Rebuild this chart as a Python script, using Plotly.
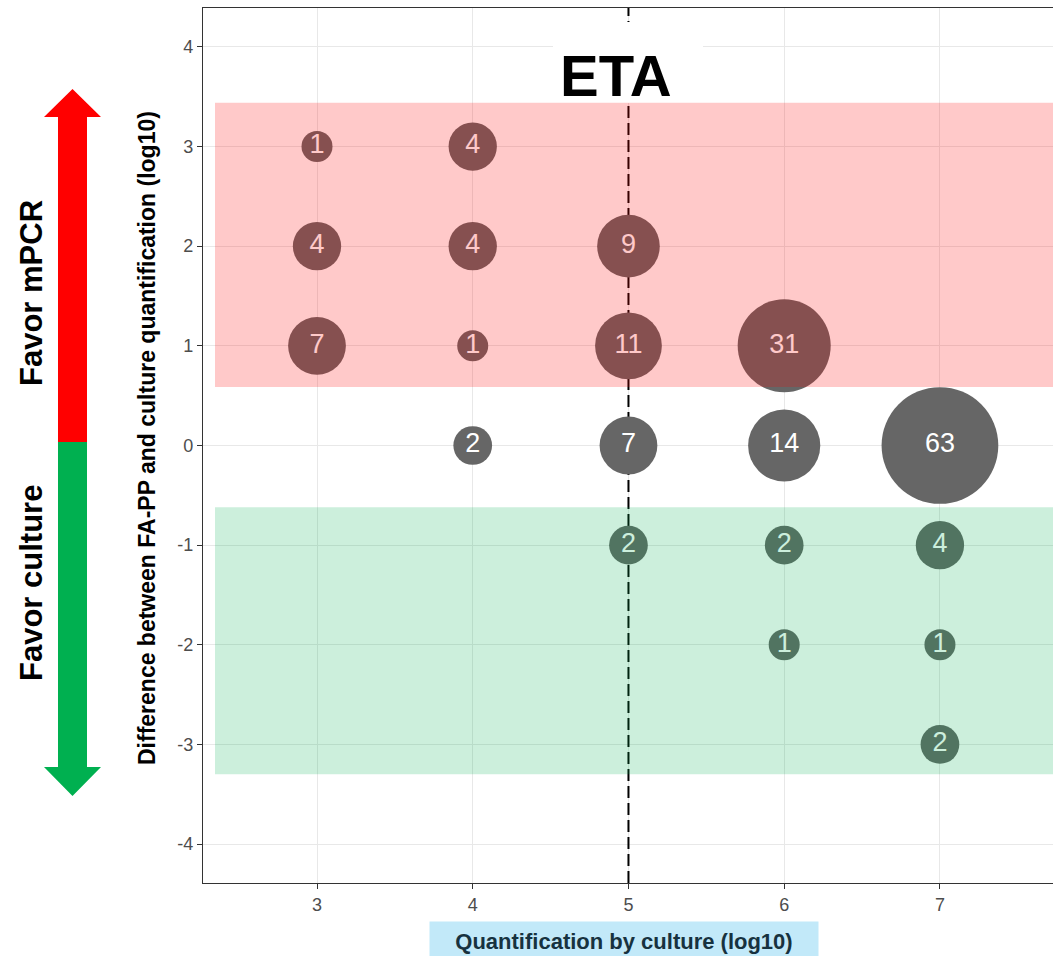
import plotly.graph_objects as go

# Culture quantification (log10), difference FA-PP minus culture (log10), and isolate counts
culture_log = [3, 3, 3, 4, 4, 4, 4, 5, 5, 5, 5, 6, 6, 6, 6, 7, 7, 7, 7]
difference_log = [3, 2, 1, 3, 2, 1, 0, 2, 1, 0, -1, 1, 0, -1, -2, 0, -1, -2, -3]
counts = [1, 4, 7, 4, 4, 1, 2, 9, 11, 7, 2, 31, 14, 2, 1, 63, 4, 1, 2]

x_ticks = [3, 4, 5, 6, 7]
y_ticks = [-4, -3, -2, -1, 0, 1, 2, 3, 4]
y_tick_labels = ["-4", "-3", "-2", "-1", "0", "1", "2", "3", "4"]
threshold_x = 5

X_RANGE = [2.268, 7.726]
Y_RANGE = [-4.39, 4.39]

W, H = 1053, 956
ML, MR, MT, MB = 203, 0, 8, 73
PW, PH = W - ML - MR, H - MT - MB

FONT = "Liberation Sans, Arial, sans-serif"


def px(x):
    return (x - ML) / PW


def py(y):
    return (H - MB - y) / PH


def bubble_diameter(n):
    return 31 * n ** 0.32


fig = go.Figure()

# vertical dashed reference line at the culture threshold
fig.add_trace(go.Scatter(
    x=[threshold_x, threshold_x], y=Y_RANGE, mode="lines",
    line=dict(color="black", width=2, dash="12px,5px"),
    hoverinfo="skip", showlegend=False,
))

fig.add_trace(go.Scatter(
    x=culture_log, y=difference_log, mode="markers+text",
    marker=dict(size=[bubble_diameter(n) for n in counts], sizemode="diameter",
                color="#666666", line=dict(width=0), opacity=1),
    text=[str(n) for n in counts], textposition="middle center",
    textfont=dict(family=FONT, size=27, color="white"),
    showlegend=False, hoverinfo="skip",
))

shapes = []
# white plate behind the title
shapes.append(dict(type="rect", xref="paper", yref="paper",
                   x0=px(553), x1=px(703), y0=py(103), y1=py(22),
                   fillcolor="white", line=dict(width=0), layer="above"))
# agreement zones
shapes.append(dict(type="rect", xref="x", yref="y",
                   x0=2.345, x1=X_RANGE[1], y0=0.586, y1=3.44,
                   fillcolor="rgba(255,0,0,0.21)", line=dict(width=0), layer="above"))
shapes.append(dict(type="rect", xref="x", yref="y",
                   x0=2.345, x1=X_RANGE[1], y0=-3.30, y1=-0.62,
                   fillcolor="rgba(0,176,80,0.2)", line=dict(width=0), layer="above"))


def path_from(points):
    return "M " + " L ".join(f"{px(a):.5f},{py(b):.5f}" for a, b in points) + " Z"


up_arrow = [(72.5, 89), (101, 117), (87, 117), (87, 442), (58, 442), (58, 117), (44, 117)]
down_arrow = [(58, 442), (87, 442), (87, 767), (101, 767), (72.5, 796), (44, 767), (58, 767)]
shapes.append(dict(type="path", xref="paper", yref="paper", path=path_from(up_arrow),
                   fillcolor="#ff0000", line=dict(width=0), layer="above"))
shapes.append(dict(type="path", xref="paper", yref="paper", path=path_from(down_arrow),
                   fillcolor="#00b050", line=dict(width=0), layer="above"))

annotations = [
    dict(text="<b>ETA</b>", xref="paper", yref="paper", x=px(616), y=py(75),
         xanchor="center", yanchor="middle", showarrow=False,
         font=dict(family=FONT, size=58, color="black")),
    dict(text="<b>Favor mPCR</b>", xref="paper", yref="paper", x=px(31), y=py(293),
         xanchor="center", yanchor="middle", showarrow=False, textangle=-90,
         font=dict(family=FONT, size=31, color="black")),
    dict(text="<b>Favor culture</b>", xref="paper", yref="paper", x=px(31), y=py(583),
         xanchor="center", yanchor="middle", showarrow=False, textangle=-90,
         font=dict(family=FONT, size=31, color="black")),
    dict(text="<b>Difference between FA-PP and culture quantification (log10)</b>",
         xref="paper", yref="paper", x=px(147), y=py(438), xanchor="center", yanchor="middle",
         showarrow=False, textangle=-90,
         font=dict(family=FONT, size=23, color="black")),
    dict(text="<b>Quantification by culture (log10)</b>", xref="paper", yref="paper",
         x=px(624), y=py(941), xanchor="center", yanchor="middle", showarrow=False,
         bgcolor="#c2e9f9", width=384, height=34, borderpad=2,
         font=dict(family=FONT, size=22, color="#17323f")),
]

axis_common = dict(
    showgrid=True, gridcolor="#e8e8e8", gridwidth=1.2, zeroline=False,
    showline=True, linecolor="#333333", linewidth=1.3,
    ticks="outside", ticklen=5, tickwidth=1.2, tickcolor="#333333",
    tickfont=dict(family=FONT, size=18, color="#4d4d4d"),
)

fig.update_layout(
    width=W, height=H,
    margin=dict(l=ML, r=MR, t=MT, b=MB),
    paper_bgcolor="white", plot_bgcolor="white",
    xaxis=dict(range=X_RANGE, tickvals=x_ticks, mirror=True, **axis_common),
    yaxis=dict(range=Y_RANGE, tickvals=y_ticks, ticktext=y_tick_labels, **axis_common),
    shapes=shapes, annotations=annotations,
    showlegend=False,
)

fig.write_html("out.html")
